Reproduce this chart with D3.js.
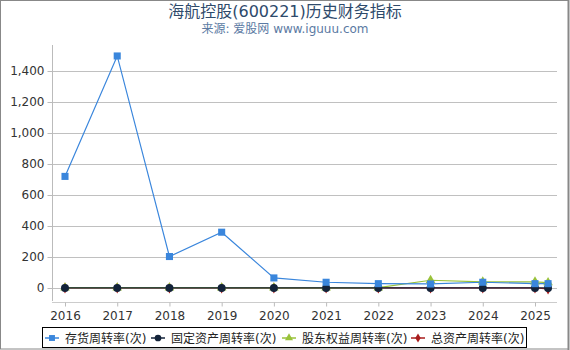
<!DOCTYPE html>
<html>
<head>
<meta charset="utf-8">
<script src="https://cdn.jsdelivr.net/npm/d3@7/dist/d3.min.js"></script>
<style>
  body { margin: 0; background: #fff; }
  text { font-family: "DejaVu Sans", "Noto Sans CJK SC", sans-serif; }
</style>
</head>
<body>
<div class="chart"></div>
<script>
// data
var years = [2016, 2017, 2018, 2019, 2020, 2021, 2022, 2023, 2024, 2025, 2025.25];
var inventoryTurn = [720, 1497, 203, 360, 65, 37, 28, 26, 37, 28, 28];   // 存货周转率
var fixedTurn = [0.5, 0.5, 0.4, 0.4, 0.2, 0.2, 0.3, 0.4, 0.5, 0.4, 0.2];  // 固定资产周转率
var equityTurn = [2, 2, 2, 2, 1, 1, 2, 50, 40, 40, 35];   // 股东权益周转率
var assetTurn = [0.3, 0.3, 0.3, 0.3, 0.2, 0.2, 0.3, 0.4, 0.5, 0.4, -6]; // 总资产周转率
var yTicks = [0, 200, 400, 600, 800, 1000, 1200, 1400];
var xTicks = [2016, 2017, 2018, 2019, 2020, 2021, 2022, 2023, 2024, 2025];

var series = [
  {name: "存货周转率(次)", values: inventoryTurn, color: "#3a86dc", shape: d3.symbolSquare, size: 50},
  {name: "固定资产周转率(次)", values: fixedTurn, color: "#13233a", shape: d3.symbolCircle, size: 50},
  {name: "股东权益周转率(次)", values: equityTurn, color: "#99c23a", shape: d3.symbolTriangle, size: 40},
  {name: "总资产周转率(次)", values: assetTurn, color: "#a81c1c", shape: d3.symbolDiamond, size: 35}
];

var width = 570, height = 350;
var svg = d3.select(".chart").append("svg")
    .attr("width", width).attr("height", height);

// outer frame
svg.append("rect").attr("x", 0.5).attr("y", 0.5)
   .attr("width", width - 2).attr("height", height - 1.5)
   .attr("fill", "none").attr("stroke", "#888").attr("stroke-width", 1);
svg.append("line").attr("x1", 568.5).attr("x2", 568.5).attr("y1", 0).attr("y2", height)
   .attr("stroke", "#888").attr("stroke-width", 2);

svg.append("text").attr("x", 285).attr("y", 17).attr("text-anchor", "middle")
   .attr("font-size", 16).attr("fill", "#2e4a6b").text("海航控股(600221)历史财务指标");
svg.append("text").attr("x", 285).attr("y", 33).attr("text-anchor", "middle")
   .attr("font-size", 12).attr("fill", "#5b7aa3").text("来源: 爱股网 www.iguuu.com");

var x = d3.scaleLinear().domain([2016, 2025]).range([65, 535]);
var y = d3.scaleLinear().domain([0, 1400]).range([288, 71]);

// grid
svg.append("g").selectAll("line").data(yTicks).enter().append("line")
   .attr("x1", 52).attr("x2", 557)
   .attr("y1", function(d){ return Math.round(y(d)) + 0.5; })
   .attr("y2", function(d){ return Math.round(y(d)) + 0.5; })
   .attr("stroke", "#c0c0c0");

// y axis
var yAxis = svg.append("g").attr("transform", "translate(52.5,0)")
   .call(d3.axisLeft(y).tickValues(yTicks).tickSize(5).tickFormat(d3.format(",")));
yAxis.select(".domain").attr("d", "M0," + 45 + "V" + 301).attr("stroke", "#bbb");
yAxis.selectAll(".tick line").attr("stroke", "#bbb");
yAxis.selectAll(".tick text").attr("font-size", 12).attr("fill", "#333")
   .attr("font-family", "DejaVu Sans");

// x axis
var xAxis = svg.append("g").attr("transform", "translate(0,302.5)")
   .call(d3.axisBottom(x).tickValues(xTicks).tickSize(4).tickFormat(d3.format("d")));
xAxis.select(".domain").attr("d", "M52,0H557").attr("stroke", "#ccc");
xAxis.selectAll(".tick line").attr("stroke", "#bbb");
xAxis.selectAll(".tick text").attr("font-size", 12).attr("fill", "#333")
   .attr("font-family", "DejaVu Sans").attr("dy", "0.9em");

var line = d3.line()
   .x(function(d, i){ return x(years[i]); })
   .y(function(d){ return y(d); });

// draw in reverse order so inventory sits on top
series.slice().reverse().forEach(function(s){
  svg.append("path").datum(s.values).attr("d", line)
     .attr("fill", "none").attr("stroke", s.color).attr("stroke-width", 1.2);
});
series.slice().reverse().forEach(function(s){
  svg.append("g").selectAll("path").data(s.values).enter().append("path")
     .attr("d", d3.symbol().type(s.shape).size(s.size))
     .attr("transform", function(d, i){ return "translate(" + x(years[i]) + "," + y(d) + ")"; })
     .attr("fill", s.color);
});

// legend
var leg = svg.append("g");
leg.append("rect").attr("x", 42.5).attr("y", 327.5).attr("width", 484).attr("height", 20)
   .attr("fill", "#fff").attr("stroke", "#000");
var legX = [45, 151, 282, 411];
series.forEach(function(s, i){
  var g = leg.append("g").attr("transform", "translate(" + legX[i] + ",338)");
  g.append("line").attr("x1", 0).attr("x2", 14).attr("stroke", s.color).attr("stroke-width", 1.5);
  g.append("path").attr("d", d3.symbol().type(s.shape).size(s.size * 0.7))
     .attr("transform", "translate(7,0)").attr("fill", s.color);
  g.append("text").attr("x", 20).attr("y", 4.5).attr("font-size", 12).attr("fill", "#222")
     .text(s.name);
});
</script>
</body>
</html>
